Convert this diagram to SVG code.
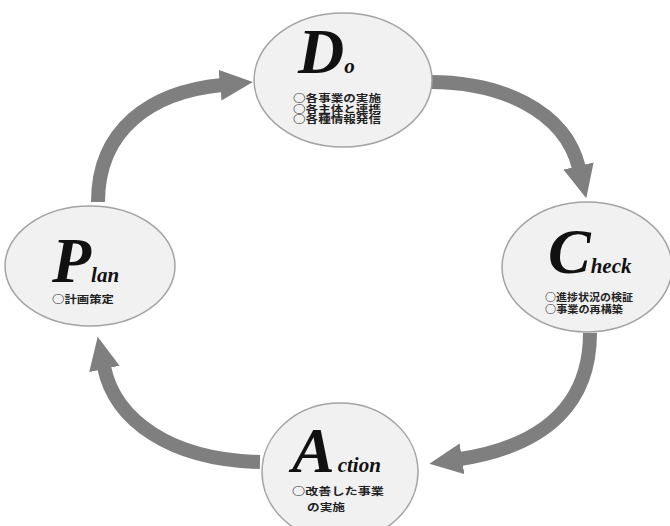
<svg xmlns="http://www.w3.org/2000/svg" width="670" height="526" viewBox="0 0 670 526">
  <style>
    .node ellipse { fill: #f1f1f1; stroke: #a3a3a3; stroke-width: 1.5; }
    .big { font-family: "Liberation Serif", "Times New Roman", serif; font-style: italic; font-weight: bold; font-size: 64px; fill: #111; }
    .sm { font-family: "Liberation Serif", "Times New Roman", serif; font-style: italic; font-weight: bold; font-size: 21px; fill: #111; }
    .jp { font-family: "Noto Sans CJK JP", "Noto Sans", sans-serif; font-weight: bold; font-size: 10px; fill: #222; }
    .flow { fill: none; stroke: #7f7f7f; stroke-width: 14; }
  </style>
  <defs>
    <marker id="head" markerUnits="userSpaceOnUse" markerWidth="33" markerHeight="31" refX="2" refY="15.5" orient="auto">
      <path d="M0,0 L33,15.5 L0,31 Z" fill="#7f7f7f"/>
    </marker>
  </defs>
  <rect width="670" height="526" fill="#ffffff"/>

  <!-- cycle connectors -->
  <g id="connectors">
    <path class="flow" d="M98,202 C98,130 150,92 222,85" marker-end="url(#head)"/>
    <path class="flow" d="M430,82 C500,82 565,110 579,168" marker-end="url(#head)"/>
    <path class="flow" d="M590,333 C590,400 550,445 460,459" marker-end="url(#head)"/>
    <path class="flow" d="M260,462 C170,460 115,420 104,367" marker-end="url(#head)"/>
  </g>

  <g id="do" class="node">
    <ellipse cx="343" cy="80" rx="89" ry="67"/>
    <text x="298" y="73"><tspan class="big">D</tspan><tspan class="sm" font-size="28">o</tspan></text>
    <text class="jp" x="293" y="102" textLength="88" lengthAdjust="spacingAndGlyphs">○各事業の実施</text>
    <text class="jp" x="293" y="112.5" textLength="88" lengthAdjust="spacingAndGlyphs">○各主体と連携</text>
    <text class="jp" x="293" y="123" textLength="88" lengthAdjust="spacingAndGlyphs">○各種情報発信</text>
  </g>

  <g id="check" class="node">
    <ellipse cx="587" cy="267" rx="85" ry="65"/>
    <text x="548" y="273"><tspan class="big">C</tspan><tspan class="sm">heck</tspan></text>
    <text class="jp" x="545" y="301" textLength="88" lengthAdjust="spacingAndGlyphs">○進捗状況の検証</text>
    <text class="jp" x="545" y="313" textLength="78" lengthAdjust="spacingAndGlyphs">○事業の再構築</text>
  </g>

  <g id="plan" class="node">
    <ellipse cx="90" cy="266" rx="85" ry="60"/>
    <text x="52" y="282"><tspan class="big">P</tspan><tspan class="sm">lan</tspan></text>
    <text class="jp" x="52" y="303" textLength="62" lengthAdjust="spacingAndGlyphs">○計画策定</text>
  </g>

  <g id="action" class="node">
    <ellipse cx="340" cy="472" rx="78" ry="69"/>
    <text x="292" y="472"><tspan class="big">A</tspan><tspan class="sm" font-size="22" dx="3">ction</tspan></text>
    <text class="jp" x="292" y="495" font-size="11" textLength="92" lengthAdjust="spacingAndGlyphs">○改善した事業</text>
    <text class="jp" x="307" y="511" font-size="11" textLength="38" lengthAdjust="spacingAndGlyphs">の実施</text>
  </g>
</svg>
